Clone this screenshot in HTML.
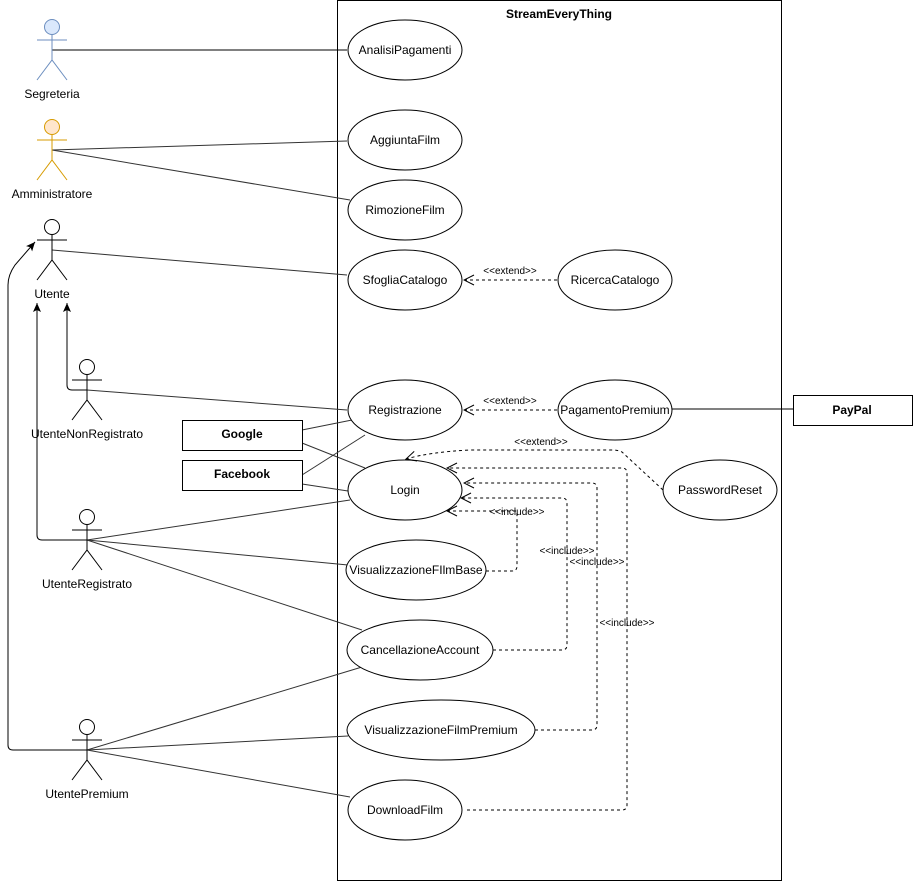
<!DOCTYPE html>
<html><head><meta charset="utf-8"><style>
html,body{margin:0;padding:0;background:#fff;}
svg{display:block;font-family:"Liberation Sans",Arial,sans-serif;}
</style></head><body>
<svg width="913" height="881" viewBox="0 0 913 881" xmlns="http://www.w3.org/2000/svg">
<defs>
<marker id="open" markerWidth="12" markerHeight="12" refX="11" refY="6" orient="auto" markerUnits="userSpaceOnUse">
<path d="M1,1 L11,6 L1,11" fill="none" stroke="#000" stroke-width="1" stroke-dasharray="none"/></marker>
<marker id="tri" markerWidth="10" markerHeight="10" refX="9" refY="5" orient="auto" markerUnits="userSpaceOnUse">
<path d="M0,1 L9,5 L0,9 L2,5 Z" fill="#000"/></marker>
</defs>
<rect x="337.5" y="0.5" width="444" height="880" fill="#fff" stroke="#000"/>
<text x="559" y="18" font-size="12" font-weight="bold" text-anchor="middle">StreamEveryThing</text>

<g stroke="#000" fill="none" stroke-width="1">
<!-- associations -->
<line x1="52" y1="50" x2="347" y2="50"/>
<line x1="52" y1="150" x2="347" y2="141" stroke="#333"/>
<line x1="52" y1="150" x2="350" y2="200" stroke="#333"/>
<line x1="52" y1="250" x2="347" y2="275" stroke="#333"/>
<line x1="87" y1="390" x2="347" y2="410" stroke="#333"/>
<line x1="302" y1="430" x2="352" y2="420" stroke="#333"/>
<line x1="302" y1="443" x2="365" y2="468" stroke="#333"/>
<line x1="302" y1="475" x2="365" y2="435" stroke="#333"/>
<line x1="302" y1="484" x2="348" y2="491" stroke="#333"/>
<line x1="87" y1="540" x2="350" y2="500" stroke="#333"/>
<line x1="87" y1="540" x2="348" y2="565" stroke="#333"/>
<line x1="87" y1="540" x2="362" y2="630" stroke="#333"/>
<line x1="87" y1="750" x2="362" y2="667" stroke="#333"/>
<line x1="87" y1="750" x2="348" y2="736" stroke="#333"/>
<line x1="87" y1="750" x2="350" y2="797" stroke="#333"/>
<line x1="672" y1="409" x2="793" y2="409"/>
<!-- generalization -->
<path d="M87,390 L72,390 Q67,390 67,385 L67,303" marker-end="url(#tri)"/>
<path d="M87,540 L42,540 Q37,540 37,535 L37,303" marker-end="url(#tri)"/>
<path d="M87,750 L13,750 Q8,750 8,745 L8,285 Q8,275 15,265 L35,242" marker-end="url(#tri)"/>
<!-- ellipses -->
<g fill="#fff">
<ellipse cx="405" cy="50" rx="57" ry="30"/>
<ellipse cx="405" cy="140" rx="57" ry="30"/>
<ellipse cx="405" cy="210" rx="57" ry="30"/>
<ellipse cx="405" cy="280" rx="57" ry="30"/>
<ellipse cx="615" cy="280" rx="57" ry="30"/>
<ellipse cx="405" cy="410" rx="57" ry="30"/>
<ellipse cx="615" cy="410" rx="57" ry="30"/>
<ellipse cx="405" cy="490" rx="57" ry="30"/>
<ellipse cx="720" cy="490" rx="57" ry="30"/>
<ellipse cx="416" cy="570" rx="70" ry="30"/>
<ellipse cx="420" cy="650" rx="73" ry="30"/>
<ellipse cx="441" cy="730" rx="94" ry="30"/>
<ellipse cx="405" cy="810" rx="57" ry="30"/>
<rect x="182.5" y="420.5" width="120" height="30"/>
<rect x="182.5" y="460.5" width="120" height="30"/>
<rect x="793.5" y="395.5" width="119" height="30"/>
</g>
<!-- dashed -->
<g stroke-dasharray="3,3">
<line x1="557" y1="280" x2="464" y2="280" marker-end="url(#open)"/>
<line x1="557" y1="410" x2="464" y2="410" marker-end="url(#open)"/>
<path d="M663,490 L622,452 Q618,450 612,450 L470,450 Q430,452 406,459" marker-end="url(#open)"/>
<path d="M486,571 L512,571 Q517,571 517,566 L517,511 L447,511" marker-end="url(#open)"/>
<path d="M493,650 L562,650 Q567,650 567,645 L567,503 Q567,498 562,498 L461,498" marker-end="url(#open)"/>
<path d="M535,730 L592,730 Q597,730 597,725 L597,488 Q597,483 592,483 L464,483" marker-end="url(#open)"/>
<path d="M467,810 L622,810 Q627,810 627,805 L627,473 Q627,468 622,468 L447,468" marker-end="url(#open)"/>
</g>
<!-- actors -->
<g stroke="#6c8ebf"><circle cx="52" cy="27" r="7.5" fill="#dae8fc"/><path d="M52,35 V60 M37,40 H67 M37,80 L52,60 L67,80"/></g>
<g stroke="#d79b00"><circle cx="52" cy="127" r="7.5" fill="#ffe6cc"/><path d="M52,135 V160 M37,140 H67 M37,180 L52,160 L67,180"/></g>
<g><circle cx="52" cy="227" r="7.5" fill="#fff"/><path d="M52,235 V260 M37,240 H67 M37,280 L52,260 L67,280"/></g>
<g><circle cx="87" cy="367" r="7.5" fill="#fff"/><path d="M87,375 V400 M72,380 H102 M72,420 L87,400 L102,420"/></g>
<g><circle cx="87" cy="517" r="7.5" fill="#fff"/><path d="M87,525 V550 M72,530 H102 M72,570 L87,550 L102,570"/></g>
<g><circle cx="87" cy="727" r="7.5" fill="#fff"/><path d="M87,735 V760 M72,740 H102 M72,780 L87,760 L102,780"/></g>
</g>

<g font-size="12" text-anchor="middle" fill="#000">
<text x="52" y="98">Segreteria</text>
<text x="52" y="198">Amministratore</text>
<text x="52" y="298">Utente</text>
<text x="87" y="438">UtenteNonRegistrato</text>
<text x="87" y="588">UtenteRegistrato</text>
<text x="87" y="798">UtentePremium</text>
<text x="405" y="54">AnalisiPagamenti</text>
<text x="405" y="144">AggiuntaFilm</text>
<text x="405" y="214">RimozioneFilm</text>
<text x="405" y="284">SfogliaCatalogo</text>
<text x="615" y="284">RicercaCatalogo</text>
<text x="405" y="414">Registrazione</text>
<text x="615" y="414">PagamentoPremium</text>
<text x="405" y="494">Login</text>
<text x="720" y="494">PasswordReset</text>
<text x="416" y="574">VisualizzazioneFIlmBase</text>
<text x="420" y="654">CancellazioneAccount</text>
<text x="441" y="734">VisualizzazioneFilmPremium</text>
<text x="405" y="814">DownloadFilm</text>
<text x="242" y="438" font-weight="bold">Google</text>
<text x="242" y="478" font-weight="bold">Facebook</text>
<text x="852" y="414" font-weight="bold">PayPal</text>
</g>
<g font-size="10" text-anchor="middle" fill="#000">
<text x="510" y="274">&lt;&lt;extend&gt;&gt;</text>
<text x="510" y="404">&lt;&lt;extend&gt;&gt;</text>
<text x="541" y="445">&lt;&lt;extend&gt;&gt;</text>
<text x="517" y="515">&lt;&lt;include&gt;&gt;</text>
<text x="567" y="554">&lt;&lt;include&gt;&gt;</text>
<text x="597" y="565">&lt;&lt;include&gt;&gt;</text>
<text x="627" y="626">&lt;&lt;include&gt;&gt;</text>
</g>
</svg>
</body></html>
